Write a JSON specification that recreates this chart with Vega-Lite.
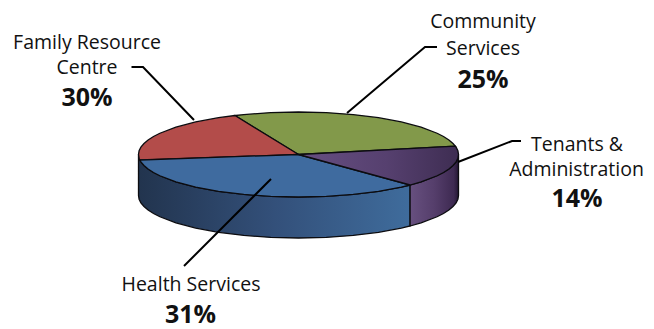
{
  "$schema": "https://vega.github.io/schema/vega-lite/v6.json",
  "width": 654,
  "height": 329,
  "padding": 0,
  "autosize": {"type": "none"},
  "background": "white",
  "view": {"stroke": null},
  "projection": {"type": "identity", "reflectY": true, "scale": 1, "translate": [298.5, 154.5]},
  "datasets": {
    "surfaces": [
      {"department": "Health Services", "share": 31, "part": "wall",
       "geo": {"type": "Polygon", "coordinates": [[[-160,0],[-159.4,-3.7],[-157.6,-7.4],[-154.5,-11],[-150.4,-14.5],[-145,-18],[-138.6,-21.25],[-122.6,-27.3],[-102.8,-32.6],[-80,-36.8],[-54.7,-39.9],[-27.8,-41.9],[0,-42.5],[27.8,-41.9],[54.7,-39.9],[80,-36.8],[102.8,-32.6],[111.6,-30.5],[111.6,-71.5],[102.8,-73.6],[80,-77.8],[54.7,-80.9],[27.8,-82.9],[0,-83.5],[-27.8,-82.9],[-54.7,-80.9],[-80,-77.8],[-102.8,-73.6],[-122.6,-68.3],[-138.6,-62.25],[-145,-59],[-150.4,-55.5],[-154.5,-52],[-157.6,-48.4],[-159.4,-44.7],[-160,-41],[-160,0]]]}},
      {"department": "Tenants & Administration", "share": 14, "part": "wall",
       "geo": {"type": "Polygon", "coordinates": [[[111.6,-30.5],[122.6,-27.3],[138.6,-21.25],[145,-18],[150.4,-14.5],[154.5,-11],[157.6,-7.4],[159.4,-3.7],[160,0],[160,-41],[159.4,-44.7],[157.6,-48.4],[154.5,-52],[150.4,-55.5],[145,-59],[138.6,-62.25],[122.6,-68.3],[111.6,-71.5],[111.6,-30.5]]]}},
      {"department": "Community Services", "share": 25, "part": "top",
       "geo": {"type": "Polygon", "coordinates": [[[0,0],[156.8,8.4],[154.5,11],[150.4,14.5],[145,18],[138.6,21.25],[122.6,27.3],[102.8,32.6],[80,36.8],[54.7,39.9],[27.8,41.9],[0,42.5],[-27.8,41.9],[-54.7,39.9],[-63.6,39],[0,0]]]}},
      {"department": "Family Resource Centre", "share": 30, "part": "top",
       "geo": {"type": "Polygon", "coordinates": [[[0,0],[-63.6,39],[-80,36.8],[-102.8,32.6],[-122.6,27.3],[-138.6,21.25],[-145,18],[-150.4,14.5],[-154.5,11],[-157.6,7.4],[-159.4,3.7],[-160,0],[-159.4,-3.7],[-158.6,-5.5],[0,0]]]}},
      {"department": "Health Services", "share": 31, "part": "top",
       "geo": {"type": "Polygon", "coordinates": [[[0,0],[-158.6,-5.5],[-157.6,-7.4],[-154.5,-11],[-150.4,-14.5],[-145,-18],[-138.6,-21.25],[-122.6,-27.3],[-102.8,-32.6],[-80,-36.8],[-54.7,-39.9],[-27.8,-41.9],[0,-42.5],[27.8,-41.9],[54.7,-39.9],[80,-36.8],[102.8,-32.6],[111.6,-30.5],[0,0]]]}},
      {"department": "Tenants & Administration", "share": 14, "part": "top",
       "geo": {"type": "Polygon", "coordinates": [[[0,0],[111.6,-30.5],[122.6,-27.3],[138.6,-21.25],[145,-18],[150.4,-14.5],[154.5,-11],[157.6,-7.4],[159.4,-3.7],[160,0],[159.4,3.7],[157.6,7.4],[156.8,8.4],[0,0]]]}}
    ],
    "leaders": [
      {"department": "Family Resource Centre", "geo": {"type": "LineString", "coordinates": [[-167,87.5],[-155.5,87.5],[-104.5,34.5]]}},
      {"department": "Community Services", "geo": {"type": "LineString", "coordinates": [[138.5,107.5],[126.5,107.5],[48.5,41.5]]}},
      {"department": "Tenants & Administration", "geo": {"type": "LineString", "coordinates": [[222.5,13.5],[213.5,13.5],[159.5,-7.5]]}},
      {"department": "Health Services", "geo": {"type": "LineString", "coordinates": [[-27.5,-24.5],[-114.5,-111.5]]}}
    ],
    "names": [
      {"line": "Family Resource", "lon": -211.5, "lat": 105.5},
      {"line": "Centre", "lon": -211.5, "lat": 80.5},
      {"line": "Community", "lon": 184.5, "lat": 126.5},
      {"line": "Services", "lon": 184.5, "lat": 99.5},
      {"line": "Tenants &", "lon": 278.5, "lat": 3.5},
      {"line": "Administration", "lon": 278, "lat": -21.5},
      {"line": "Health Services", "lon": -107.5, "lat": -136.5}
    ],
    "shares": [
      {"label": "30%", "lon": -211.5, "lat": 48.5},
      {"label": "25%", "lon": 184.5, "lat": 66.5},
      {"label": "14%", "lon": 278.5, "lat": -52.5},
      {"label": "31%", "lon": -108, "lat": -168.5}
    ]
  },
  "layer": [
    {
      "data": {"name": "surfaces"},
      "transform": [{"filter": "datum.part === 'wall' && datum.share === 31"}],
      "mark": {"type": "geoshape", "stroke": "#0c0c10", "strokeWidth": 1.3,
        "fill": {"gradient": "linear", "x1": 0, "y1": 0, "x2": 1, "y2": 0,
          "stops": [{"offset": 0, "color": "#22344e"}, {"offset": 0.5, "color": "#33507a"}, {"offset": 1, "color": "#3f6c9c"}]}},
      "encoding": {"shape": {"field": "geo", "type": "geojson"}}
    },
    {
      "data": {"name": "surfaces"},
      "transform": [{"filter": "datum.part === 'wall' && datum.share === 14"}],
      "mark": {"type": "geoshape", "stroke": "#0c0c10", "strokeWidth": 1.3,
        "fill": {"gradient": "linear", "x1": 0, "y1": 0, "x2": 1, "y2": 0,
          "stops": [{"offset": 0, "color": "#67507f"}, {"offset": 0.5, "color": "#553e6b"}, {"offset": 0.9, "color": "#3e2a52"}, {"offset": 1, "color": "#241733"}]}},
      "encoding": {"shape": {"field": "geo", "type": "geojson"}}
    },
    {
      "data": {"name": "surfaces"},
      "transform": [{"filter": "datum.part === 'top' && datum.share !== 14"}],
      "mark": {"type": "geoshape", "stroke": "#0c0c10", "strokeWidth": 1.3},
      "encoding": {
        "shape": {"field": "geo", "type": "geojson"},
        "color": {"field": "department", "type": "nominal", "legend": null,
          "scale": {"domain": ["Community Services", "Family Resource Centre", "Health Services"], "range": ["#82994a", "#b34c4a", "#3f6b9f"]}}
      }
    },
    {
      "data": {"name": "surfaces"},
      "transform": [{"filter": "datum.part === 'top' && datum.share === 14"}],
      "mark": {"type": "geoshape", "stroke": "#0c0c10", "strokeWidth": 1.3,
        "fill": {"gradient": "linear", "x1": 0, "y1": 0, "x2": 1, "y2": 0,
          "stops": [{"offset": 0, "color": "#674f82"}, {"offset": 0.55, "color": "#56406f"}, {"offset": 1, "color": "#3e2d52"}]}},
      "encoding": {"shape": {"field": "geo", "type": "geojson"}}
    },
    {
      "data": {"name": "leaders"},
      "mark": {"type": "geoshape", "filled": false, "stroke": "black", "strokeWidth": 2},
      "encoding": {"shape": {"field": "geo", "type": "geojson"}}
    },
    {
      "data": {"name": "names"},
      "mark": {"type": "text", "font": "Open Sans", "fontSize": 19.5, "color": "#111111", "align": "center", "baseline": "alphabetic"},
      "encoding": {
        "longitude": {"field": "lon", "type": "quantitative"},
        "latitude": {"field": "lat", "type": "quantitative"},
        "text": {"field": "line", "type": "nominal"}
      }
    },
    {
      "data": {"name": "shares"},
      "mark": {"type": "text", "font": "Open Sans", "fontSize": 25, "fontWeight": "bold", "color": "#111111", "align": "center", "baseline": "alphabetic"},
      "encoding": {
        "longitude": {"field": "lon", "type": "quantitative"},
        "latitude": {"field": "lat", "type": "quantitative"},
        "text": {"field": "label", "type": "nominal"}
      }
    }
  ]
}
